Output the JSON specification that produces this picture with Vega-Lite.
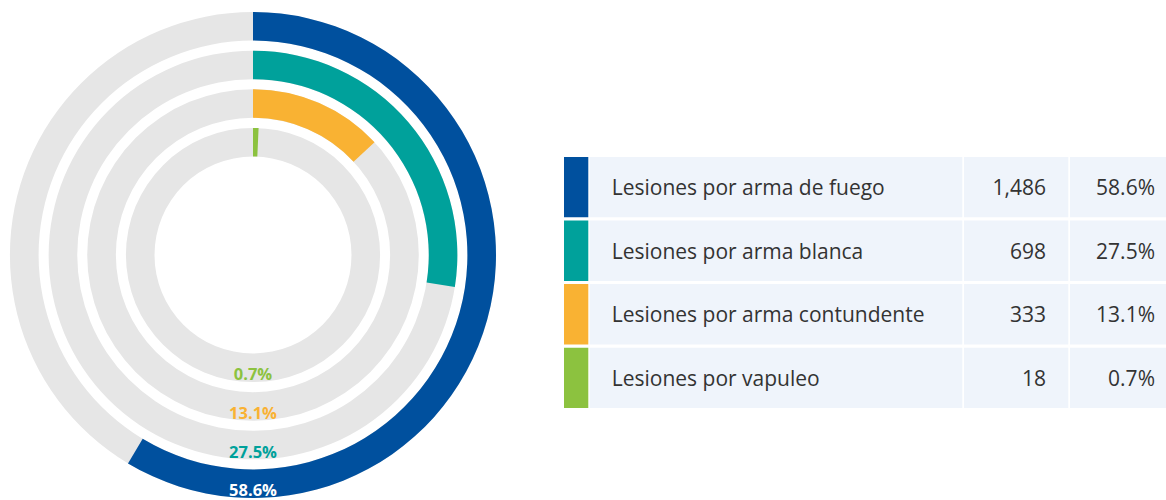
{
  "$schema": "https://vega.github.io/schema/vega-lite/v6.json",
  "padding": {"left": 0, "top": 10, "right": 0, "bottom": 0},
  "background": "white",
  "spacing": 58,
  "config": {"view": {"stroke": null}, "font": "Open Sans"},
  "data": {
    "values": [
      {"cat": "Lesiones por arma de fuego", "count": 1486, "pct": 0.586},
      {"cat": "Lesiones por arma blanca", "count": 698, "pct": 0.275},
      {"cat": "Lesiones por arma contundente", "count": 333, "pct": 0.131},
      {"cat": "Lesiones por vapuleo", "count": 18, "pct": 0.007}
    ]
  },
  "hconcat": [
    {
      "width": 506,
      "height": 490,
      "layer": [
        {
          "mark": {"type": "arc", "color": "#e6e6e6"},
          "encoding": {
            "theta": {"datum": 0, "type": "quantitative", "scale": {"domain": [0, 1], "nice": false}},
            "theta2": {"datum": 1},
            "radius": {
              "field": "cat", "type": "nominal",
              "scale": {"type": "band", "domain": ["Lesiones por vapuleo", "Lesiones por arma contundente", "Lesiones por arma blanca", "Lesiones por arma de fuego"], "range": [98.5, 243], "paddingInner": 0.26, "paddingOuter": 0}
            }
          }
        },
        {
          "mark": {"type": "arc"},
          "encoding": {
            "theta": {"field": "pct", "type": "quantitative", "stack": null},
            "theta2": {"datum": 0},
            "radius": {"field": "cat", "type": "nominal"},
            "color": {
              "field": "cat", "type": "nominal", "legend": null,
              "scale": {"domain": ["Lesiones por arma de fuego", "Lesiones por arma blanca", "Lesiones por arma contundente", "Lesiones por vapuleo"], "range": ["#00509e", "#00a19b", "#f9b233", "#8cc23f"]}
            }
          }
        },
        {
          "mark": {"type": "text", "fontWeight": "bold", "fontSize": 16.5, "dy": 7.5, "align": "center", "baseline": "middle"},
          "encoding": {
            "theta": {"datum": 0.5, "type": "quantitative"},
            "radius": {"field": "cat", "type": "nominal", "bandPosition": 0.5},
            "text": {"field": "pct", "type": "quantitative", "format": ".1%"},
            "color": {
              "condition": {"test": "datum.cat === 'Lesiones por arma de fuego'", "value": "#ffffff"},
              "field": "cat", "type": "nominal", "legend": null
            }
          }
        }
      ]
    },
    {
      "width": 602,
      "height": 490,
      "layer": [
        {
          "mark": {"type": "rect"},
          "encoding": {
            "y": {"field": "cat", "type": "nominal", "axis": null, "sort": ["Lesiones por arma de fuego", "Lesiones por arma blanca", "Lesiones por arma contundente", "Lesiones por vapuleo"], "scale": {"type": "band", "range": [147, 398], "paddingInner": 0.05, "paddingOuter": 0}},
            "x": {"datum": 0, "type": "quantitative", "axis": null, "scale": {"domain": [0, 602], "nice": false, "zero": false}},
            "x2": {"datum": 24.3},
            "color": {
              "field": "cat", "type": "nominal", "legend": null,
              "scale": {"domain": ["Lesiones por arma de fuego", "Lesiones por arma blanca", "Lesiones por arma contundente", "Lesiones por vapuleo"], "range": ["#00509e", "#00a19b", "#f9b233", "#8cc23f"]}
            }
          }
        },
        {
          "mark": {"type": "rect", "color": "#eff4fb"},
          "encoding": {
            "y": {"field": "cat", "type": "nominal", "axis": null, "sort": ["Lesiones por arma de fuego", "Lesiones por arma blanca", "Lesiones por arma contundente", "Lesiones por vapuleo"]},
            "x": {"datum": 25.7, "type": "quantitative"},
            "x2": {"datum": 398.3}
          }
        },
        {
          "mark": {"type": "rect", "color": "#eff4fb"},
          "encoding": {
            "y": {"field": "cat", "type": "nominal", "axis": null, "sort": ["Lesiones por arma de fuego", "Lesiones por arma blanca", "Lesiones por arma contundente", "Lesiones por vapuleo"]},
            "x": {"datum": 400, "type": "quantitative"},
            "x2": {"datum": 504.3}
          }
        },
        {
          "mark": {"type": "rect", "color": "#eff4fb"},
          "encoding": {
            "y": {"field": "cat", "type": "nominal", "axis": null, "sort": ["Lesiones por arma de fuego", "Lesiones por arma blanca", "Lesiones por arma contundente", "Lesiones por vapuleo"]},
            "x": {"datum": 506, "type": "quantitative"},
            "x2": {"datum": 602}
          }
        },
        {
          "mark": {"type": "text", "align": "left", "baseline": "middle", "fontSize": 21, "dy": 2, "color": "#333333"},
          "encoding": {
            "y": {"field": "cat", "type": "nominal", "axis": null, "bandPosition": 0.5, "sort": ["Lesiones por arma de fuego", "Lesiones por arma blanca", "Lesiones por arma contundente", "Lesiones por vapuleo"]},
            "x": {"datum": 47.7, "type": "quantitative"},
            "text": {"field": "cat", "type": "nominal"}
          }
        },
        {
          "mark": {"type": "text", "align": "right", "baseline": "middle", "fontSize": 21, "dy": 2, "color": "#333333"},
          "encoding": {
            "y": {"field": "cat", "type": "nominal", "axis": null, "bandPosition": 0.5, "sort": ["Lesiones por arma de fuego", "Lesiones por arma blanca", "Lesiones por arma contundente", "Lesiones por vapuleo"]},
            "x": {"datum": 482, "type": "quantitative"},
            "text": {"field": "count", "type": "quantitative", "format": ","}
          }
        },
        {
          "mark": {"type": "text", "align": "right", "baseline": "middle", "fontSize": 21, "dy": 2, "color": "#333333"},
          "encoding": {
            "y": {"field": "cat", "type": "nominal", "axis": null, "bandPosition": 0.5, "sort": ["Lesiones por arma de fuego", "Lesiones por arma blanca", "Lesiones por arma contundente", "Lesiones por vapuleo"]},
            "x": {"datum": 591, "type": "quantitative"},
            "text": {"field": "pct", "type": "quantitative", "format": ".1%"}
          }
        }
      ]
    }
  ]
}
